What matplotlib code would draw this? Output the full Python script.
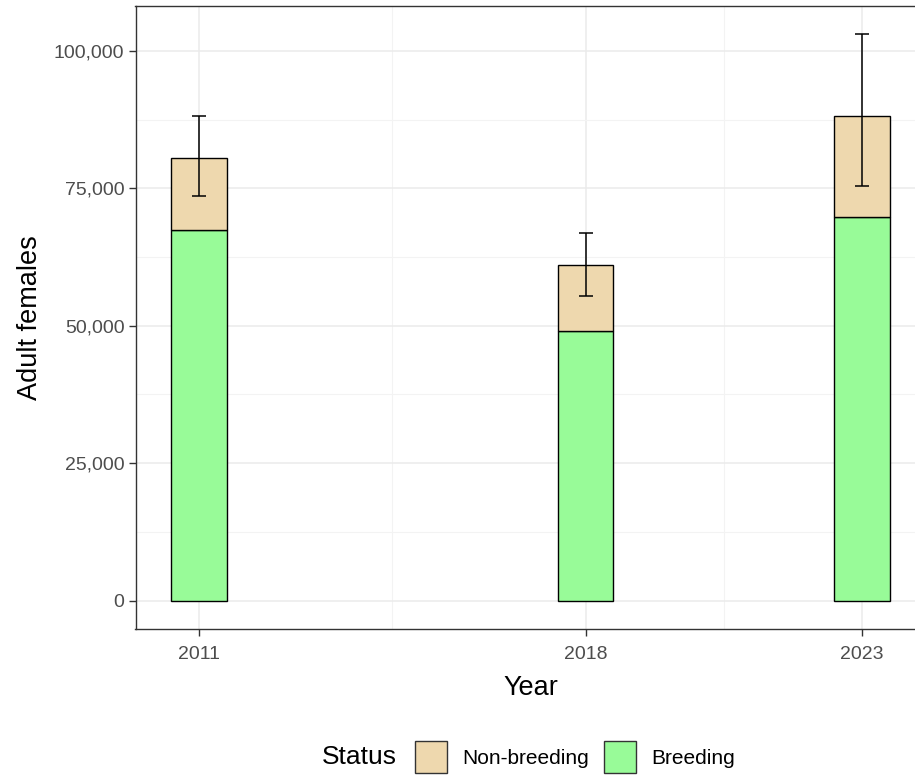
import matplotlib.pyplot as plt
from matplotlib.ticker import FuncFormatter, FixedLocator
from matplotlib.patches import Patch

plt.rcParams['font.family'] = ['Liberation Sans', 'DejaVu Sans']

years = [2011, 2018, 2023]
breeding = [67400, 49000, 69800]
non_breeding = [13100, 12000, 18400]
err_low = [73600, 55400, 75500]
err_high = [88200, 66900, 103000]

status_labels = ["Non-breeding", "Breeding"]
colors = {"Non-breeding": "#EED8AE", "Breeding": "#98FB98"}

W, H = 915, 777
fig = plt.figure(figsize=(W / 100, H / 100), dpi=100)
# panel runs past the right edge of the picture, as in the reference
ax = fig.add_axes([135.5 / W, 1 - 629 / H, (925.5 - 135.5) / W, (629 - 6) / H])

totals = [b + n for b, n in zip(breeding, non_breeding)]

ax.bar(years, breeding, width=1.0, color=colors["Breeding"],
       edgecolor="black", linewidth=1.0, zorder=3)
ax.bar(years, non_breeding, width=1.0, bottom=breeding,
       color=colors["Non-breeding"], edgecolor="black", linewidth=1.0, zorder=3)

yerr = [[t - lo for t, lo in zip(totals, err_low)],
        [hi - t for t, hi in zip(totals, err_high)]]
ax.errorbar(years, totals, yerr=yerr, fmt="none", ecolor="black",
            elinewidth=1.1, capsize=4.7, capthick=1.1, zorder=4)

ax.set_xlim(2009.85, 2024.15)
ax.set_ylim(-5150, 108150)

ax.xaxis.set_major_locator(FixedLocator(years))
ax.xaxis.set_minor_locator(FixedLocator([2014.5, 2020.5]))
ax.yaxis.set_major_locator(FixedLocator([0, 25000, 50000, 75000, 100000]))
ax.yaxis.set_minor_locator(FixedLocator([12500, 37500, 62500, 87500]))
ax.yaxis.set_major_formatter(FuncFormatter(lambda v, p: f"{int(v):,}"))

ax.grid(which="major", color="#EBEBEB", linewidth=1.1, zorder=0)
ax.grid(which="minor", color="#F3F3F3", linewidth=0.8, zorder=0)
ax.set_axisbelow(True)

for s in ax.spines.values():
    s.set_color("#333333")
    s.set_linewidth(1.0)

ax.tick_params(which="major", length=5, width=1.0, color="#333333",
               labelsize=14, labelcolor="#4D4D4D")
ax.tick_params(axis="x", which="major", pad=7)
ax.tick_params(axis="y", which="major", pad=3)
ax.tick_params(which="minor", length=0)

ax.set_xlabel("Year", fontsize=19.5, color="black", labelpad=9)
ax.set_ylabel("Adult females", fontsize=19.5, color="black", labelpad=8)

# legend at bottom with title on the left
fig.text(322 / W, 1 - 757 / H, "Status", fontsize=19, va="center", ha="left")
handles = [Patch(facecolor=colors[s], edgecolor="#333333", linewidth=1.0)
           for s in status_labels]
fig.legend(handles, status_labels, loc="center left",
           bbox_to_anchor=(415 / W, 1 - 757 / H), ncol=2, frameon=False,
           fontsize=15, handlelength=1.54, handleheight=1.92,
           handletextpad=0.72, columnspacing=0.72, borderpad=0,
           borderaxespad=0)

fig.savefig("out.png", dpi=100)
